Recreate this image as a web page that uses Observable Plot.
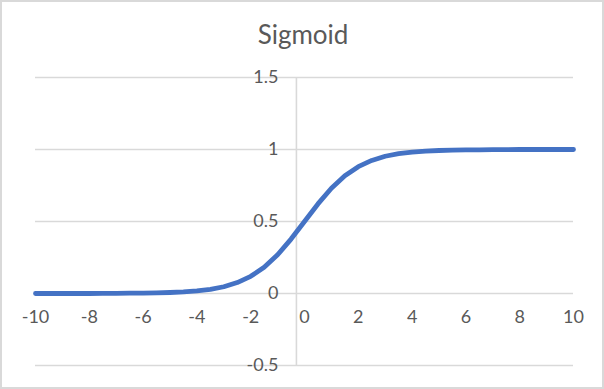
<!DOCTYPE html>
<html>
<head>
<meta charset="utf-8">
<script src="https://cdn.jsdelivr.net/npm/d3@7"></script>
<script src="https://cdn.jsdelivr.net/npm/@observablehq/plot@0.6"></script>
<style>
  html, body { margin: 0; padding: 0; background: #fff; }
  #wrap { position: relative; width: 604px; height: 389px; overflow: hidden; }
  #border { position: absolute; left: 0; top: 0; width: 604px; height: 389px; box-sizing: border-box; border: 2px solid #d9d9d9; pointer-events: none; }
  svg { display: block; }
</style>
</head>
<body>
<div id="wrap"><div id="border"></div></div>
<script>
const title = "Sigmoid";
const xValues = [-10, -9.5, -9, -8.5, -8, -7.5, -7, -6.5, -6, -5.5, -5, -4.5, -4, -3.5, -3, -2.5, -2, -1.5, -1, -0.5, 0,
                 0.5, 1, 1.5, 2, 2.5, 3, 3.5, 4, 4.5, 5, 5.5, 6, 6.5, 7, 7.5, 8, 8.5, 9, 9.5, 10];
const yValues = [0.000, 0.000, 0.000, 0.000, 0.000, 0.001, 0.001, 0.002, 0.003, 0.004, 0.007, 0.011, 0.018, 0.029, 0.047, 0.076, 0.119, 0.182, 0.269, 0.378, 0.5,
                 0.622, 0.731, 0.818, 0.881, 0.924, 0.953, 0.971, 0.982, 0.989, 0.993, 0.996, 0.998, 0.998, 0.999, 0.999, 1.000, 1.000, 1.000, 1.000, 1.000];
const xTicks = [-10, -8, -6, -4, -2, 0, 2, 4, 6, 8, 10];
const yTicks = [-0.5, 0, 0.5, 1, 1.5];
const yAxisCrossesAt = -0.3;

const data = xValues.map((x, i) => ({x, y: yValues[i]}));
const font = "Lato, 'Open Sans', sans-serif";
const grey = "#d9d9d9";
const textColor = "#595959";

const chart = Plot.plot({
  width: 604,
  height: 389,
  marginLeft: 35,
  marginRight: 31,
  marginTop: 77,
  marginBottom: 24,
  x: {domain: [-10, 10], axis: null},
  y: {domain: [-0.5, 1.5], axis: null},
  style: {fontFamily: font, background: "transparent", overflow: "visible"},
  marks: [
    Plot.ruleY(yTicks, {stroke: grey, strokeWidth: 1.6}),
    Plot.ruleX([yAxisCrossesAt], {y1: -0.5, y2: 1.5, stroke: grey, strokeWidth: 1.6}),
    Plot.line(data, {x: "x", y: "y", stroke: "#4472C4", strokeWidth: 4.8, strokeLinecap: "round", strokeLinejoin: "round"}),
    Plot.text(xTicks, {x: d => d, y: 0, dy: 24, text: d => String(d), fill: textColor, fontSize: 18}),
    Plot.text(yTicks, {x: yAxisCrossesAt, y: d => d, dx: -18, textAnchor: "end", text: d => String(d), fill: textColor, fontSize: 18}),
    Plot.text([title], {frameAnchor: "top", dx: -1.5, dy: -34, lineAnchor: "bottom", text: d => d, fill: textColor, fontSize: 26})
  ]
});
document.getElementById("wrap").prepend(chart);
</script>
</body>
</html>
